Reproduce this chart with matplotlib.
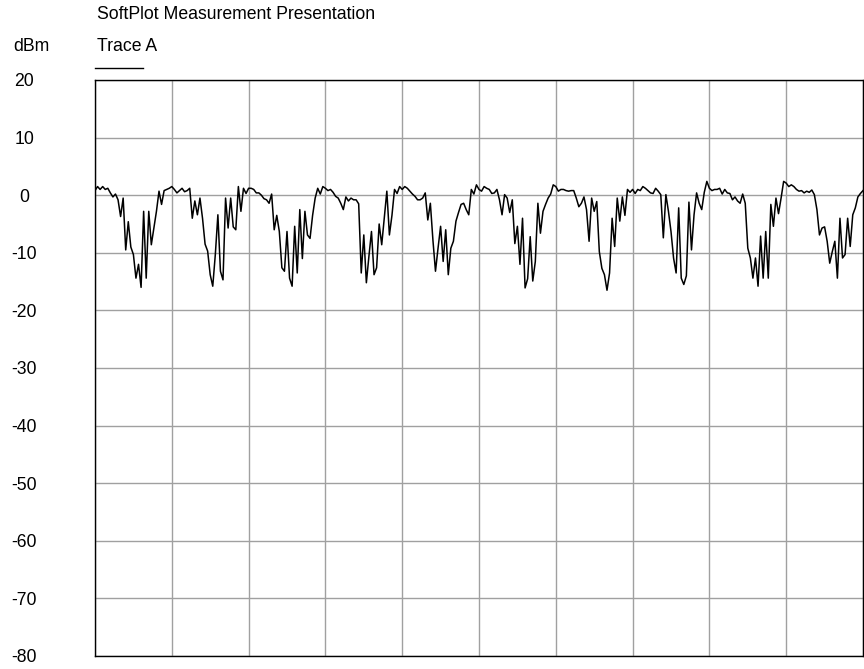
import numpy as np
import matplotlib
matplotlib.use("Agg")
import matplotlib.pyplot as plt
from matplotlib.lines import Line2D

plt.rcParams['font.family'] = ['Liberation Sans', 'DejaVu Sans']

# trace values in dBm, 30 samples per horizontal division (10 divisions)
sweep0 = [0.8, 1.5, 1.0, 1.5, 1.0, 1.2, 0.4, -0.3, 0.2, -0.8, -3.7, -0.5, -9.5, -4.6, -9.0, -10.3, -14.4, -12.0, -16.0, -2.8,
          -14.4, -2.8, -8.6, -5.7, -2.8, 0.7, -1.6, 0.8, 1.0, 1.2]
sweep1 = [1.5, 1.0, 0.4, 0.8, 1.2, 0.6, 0.8, 1.2, -4.0, -1.0, -3.4, -0.5, -4.0, -8.5, -9.7, -13.8, -15.8, -10.3, -3.4, -13.2,
          -14.7, -0.5, -5.7, -0.5, -5.5, -6.0, 1.5, -2.8, 1.2, 0.3]
sweep2 = [1.2, 1.2, 1.0, 0.4, 0.4, 0.0, -0.6, -0.8, -1.4, 0.2, -6.0, -3.5, -6.3, -12.6, -13.2, -6.3, -14.4, -15.8, -5.4, -13.5,
          -2.5, -11.0, -2.8, -6.9, -7.5, -3.5, -0.5, 1.2, 0.2, 1.5]
sweep3 = [1.2, 0.8, 1.0, 0.5, -0.2, -0.5, -1.4, -2.5, -0.3, -1.0, -0.5, -0.8, -0.8, -1.5, -13.5, -6.9, -15.2, -10.6, -6.3, -13.8,
          -12.6, -5.0, -8.6, -4.0, 0.7, -6.9, -3.5, 1.0, 0.3, 1.5]
sweep4 = [1.0, 1.5, 1.2, 0.7, 0.2, -0.2, -0.8, -0.8, -0.5, 0.4, -4.3, -1.4, -7.8, -13.2, -9.2, -5.4, -11.5, -6.0, -13.8, -9.2,
          -8.0, -4.5, -3.0, -1.6, -1.4, -2.5, -3.4, 1.0, 0.2, 1.8]
sweep5 = [1.0, 0.7, 1.5, 1.2, 1.0, 0.3, 0.4, 1.0, -0.8, -3.4, 0.1, -0.5, -3.0, -0.8, -8.4, -5.4, -12.0, -4.0, -16.1, -14.5,
          -7.2, -14.9, -11.5, -1.4, -6.6, -2.8, -1.6, -0.5, 0.2, 1.8]
sweep6 = [1.5, 0.7, 1.0, 1.0, 0.8, 0.7, 0.8, 0.8, -0.5, -2.0, -1.4, -0.3, -2.5, -8.0, -0.5, -2.8, -1.1, -9.8, -12.7, -13.8,
          -16.5, -13.5, -4.0, -8.9, -0.5, -4.5, -0.3, -3.5, 1.0, 0.5]
sweep7 = [1.0, 0.3, 1.0, 0.8, 1.5, 1.2, 0.8, 0.4, 0.3, 1.2, 0.7, 0.1, -7.4, 0.1, -2.8, -6.3, -10.9, -13.5, -2.2, -14.4,
          -15.5, -14.0, -1.2, -9.5, -3.4, 0.4, -1.4, -2.5, 0.5, 2.4]
sweep8 = [1.2, 0.8, 1.0, 1.0, 1.2, 0.2, 1.0, 0.4, 0.3, -0.8, -0.3, -1.0, -1.4, 0.2, -1.4, -9.2, -10.9, -14.4, -10.9, -15.8,
          -7.1, -14.4, -6.3, -14.4, -1.6, -5.4, -0.5, -3.2, -0.5, 2.4]
sweep9 = [2.1, 1.5, 1.8, 1.5, 1.0, 0.7, 0.8, 0.4, 0.7, 0.5, 0.9, 0.1, -2.5, -6.9, -5.7, -5.5, -8.0, -11.8, -9.8, -8.0,
          -14.4, -4.0, -10.9, -10.3, -4.0, -8.9, -3.4, -2.2, -0.3, 0.3, 0.8]

levels = sweep0 + sweep1 + sweep2 + sweep3 + sweep4 + sweep5 + sweep6 + sweep7 + sweep8 + sweep9
samples = np.arange(len(levels))

yTicks = [20, 10, 0, -10, -20, -30, -40, -50, -60, -70, -80]
nDivisions = 10
fontSize = 12.7

fig = plt.figure(figsize=(8.64, 6.69), dpi=100)
ax = fig.add_axes([95 / 864, 13 / 669, 768 / 864, 576 / 669])

ax.plot(samples, levels, color='black', linewidth=1.1, zorder=3)

ax.set_xlim(0, len(levels) - 1)
ax.set_ylim(-80, 20)
ax.set_xticks(np.linspace(0, len(levels) - 1, nDivisions + 1))
ax.set_xticklabels([])
ax.set_yticks(yTicks)
ax.set_yticklabels([str(t) for t in yTicks])
ax.tick_params(axis='both', length=0)
ax.tick_params(axis='y', pad=51, labelsize=fontSize)
for lbl in ax.get_yticklabels():
    lbl.set_horizontalalignment('center')
ax.grid(True, color='#a0a0a0', linewidth=1.0)
for s in ax.spines.values():
    s.set_linewidth(1.0)
    s.set_color('black')

# header texts
fig.text(97 / 864, 1 - 19 / 669, "SoftPlot Measurement Presentation", fontsize=fontSize, va='baseline', ha='left')
fig.text(13 / 864, 1 - 51 / 669, "dBm", fontsize=fontSize, va='baseline', ha='left')
fig.text(97 / 864, 1 - 51 / 669, "Trace A", fontsize=fontSize, va='baseline', ha='left')
fig.add_artist(Line2D([95 / 864, 143 / 864], [1 - 68 / 669, 1 - 68 / 669], color='black', linewidth=1.0,
                      transform=fig.transFigure))

fig.savefig("out.png", dpi=100)
